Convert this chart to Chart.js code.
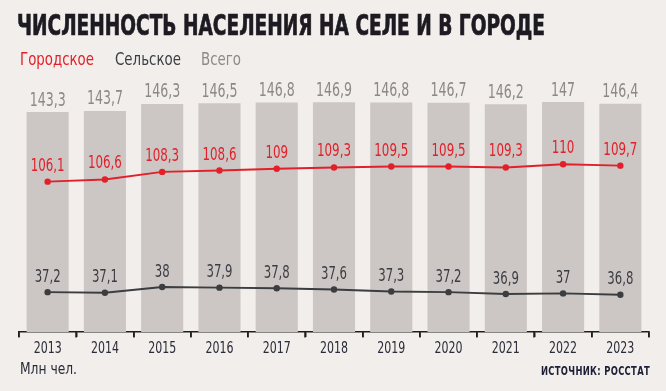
<!DOCTYPE html>
<html>
<head>
<meta charset="utf-8">
<script src="https://cdn.jsdelivr.net/npm/chart.js@4.4.1/dist/chart.umd.min.js"></script>
<style>
  html, body { margin: 0; padding: 0; background: #f1eeeb; }
  #wrap { position: relative; width: 666px; height: 391px; overflow: hidden; background: #f1eeeb; }
  canvas { position: absolute; left: 0; top: 0; }
  .t { position: absolute; white-space: nowrap; transform-origin: 0 0; font-family: "Liberation Sans Narrow", "DejaVu Sans Condensed", "Liberation Sans", sans-serif; }
  #title { left: 17px; top: 12px; font-size: 28px; line-height: 28px; font-weight: bold; color: #1e1a22; -webkit-text-stroke: 0.7px #1e1a22; }
  .leg { top: 51px; font-size: 17px; line-height: 17px; }
  #unit { left: 20px; top: 361px; font-size: 16px; line-height: 16px; color: #2a2b38; }
  #src { top: 365px; font-size: 12px; line-height: 12px; font-weight: bold; color: #1d1f36; letter-spacing: 0.4px; }
</style>
</head>
<body>
<div id="wrap">
  <canvas id="c" width="666" height="391"></canvas>
  <div class="t" id="title">ЧИСЛЕННОСТЬ НАСЕЛЕНИЯ НА СЕЛЕ И В ГОРОДЕ</div>
  <div class="t leg" id="l1" style="left:20px;color:#e2202a">Городское</div>
  <div class="t leg" id="l2" style="left:115px;color:#3b3d44">Сельское</div>
  <div class="t leg" id="l3" style="left:201px;color:#8c8987">Всего</div>
  <div class="t" id="unit">Млн чел.</div>
  <div class="t" id="src">ИСТОЧНИК: РОССТАТ</div>
</div>
<script>
// ---- data ----
const years = ["2013","2014","2015","2016","2017","2018","2019","2020","2021","2022","2023"];
const totalPop = [143.3,143.7,146.3,146.5,146.8,146.9,146.8,146.7,146.2,147,146.4];
const urbanPop = [106.1,106.6,108.3,108.6,109,109.3,109.5,109.5,109.3,110,109.7];
const ruralPop = [37.2,37.1,38,37.9,37.8,37.6,37.3,37.2,36.9,37,36.8];

function fit(id, target, anchorRight) {
  const el = document.getElementById(id);
  const w = el.getBoundingClientRect().width;
  const s = target / w;
  if (anchorRight) el.style.left = (anchorRight - target) + 'px';
  el.style.transform = 'scaleX(' + s + ')';
}
fit('title', 528);
fit('l1', 74);
fit('l2', 66);
fit('l3', 40);
fit('unit', 57);
fit('src', 109, 650.3);

const FONT = '"Liberation Sans Narrow", "DejaVu Sans Condensed", "Liberation Sans", sans-serif';
const fmt = v => String(v).replace('.', ',');

function numScale(ctx, font, sample, target) {
  ctx.save(); ctx.font = font;
  const w = ctx.measureText(sample).width;
  ctx.restore();
  return Math.min(1, target / w);
}

function drawText(ctx, txt, x, y, font, color, sx) {
  ctx.save();
  ctx.font = font;
  ctx.fillStyle = color;
  ctx.textAlign = 'center';
  ctx.textBaseline = 'alphabetic';
  ctx.translate(x, y);
  ctx.scale(sx, 1);
  ctx.fillText(txt, 0, 0);
  ctx.restore();
}

const labelPlugin = {
  id: 'labels',
  afterDraw(chart) {
    const ctx = chart.ctx;
    const specs = [
      { ds: 0, data: totalPop, font: '19px ' + FONT, color: '#8c8987', off: 6.5, sample: '143,3', w: 36 },
      { ds: 1, data: urbanPop, font: '18px ' + FONT, color: '#e2202a', off: 11, sample: '106,1', w: 34 },
      { ds: 2, data: ruralPop, font: '18px ' + FONT, color: '#3b3d44', off: 10.5, sample: '37,2', w: 26 }
    ];
    specs.forEach(sp => {
      const meta = chart.getDatasetMeta(sp.ds);
      const sx = numScale(ctx, sp.font, sp.sample, sp.w);
      meta.data.forEach((el, i) => drawText(ctx, fmt(sp.data[i]), el.x, el.y - sp.off, sp.font, sp.color, sx));
    });
    const xs = chart.scales.x;
    const half = (xs.getPixelForValue(1) - xs.getPixelForValue(0)) / 2;
    const yTop = chart.chartArea.bottom;
    ctx.save();
    ctx.fillStyle = '#1e1e1e';
    for (let i = 0; i <= years.length; i++) {
      const px = Math.round(xs.getPixelForValue(0) - half + i * 2 * half);
      ctx.fillRect(px - 0.75, yTop - 0.5, 1.5, 6);
    }
    ctx.restore();
    const yf = '16px ' + FONT;
    const ysx = numScale(ctx, yf, '2013', 28);
    years.forEach((y, i) => drawText(ctx, y, xs.getPixelForValue(i), 353.3, yf, '#2a2b38', ysx));
  }
};

new Chart(document.getElementById('c'), {
  data: {
    labels: years,
    datasets: [
      { type: 'bar', label: 'Всего', data: totalPop, yAxisID: 'yBar', backgroundColor: '#ccc7c4',
        barPercentage: 0.735, categoryPercentage: 1.0, order: 3 },
      { type: 'line', label: 'Городское', data: urbanPop, yAxisID: 'yUrban', borderColor: '#e2202a',
        backgroundColor: '#e2202a', borderWidth: 1.9, pointRadius: 3.2, pointBackgroundColor: '#e2202a',
        pointBorderWidth: 0, tension: 0, order: 1 },
      { type: 'line', label: 'Сельское', data: ruralPop, yAxisID: 'yRural', borderColor: '#3b3d40',
        backgroundColor: '#3b3d40', borderWidth: 1.9, pointRadius: 3.2, pointBackgroundColor: '#3b3d40',
        pointBorderWidth: 0, tension: 0, order: 2 }
    ]
  },
  options: {
    responsive: false,
    devicePixelRatio: 1,
    animation: false,
    layout: { padding: { left: 19, right: 17, top: 90, bottom: 0 } },
    plugins: { legend: { display: false }, tooltip: { enabled: false } },
    scales: {
      x: {
        type: 'category',
        afterFit(scale) { scale.height = 59; },
        grid: { offset: true, drawOnChartArea: false, drawTicks: true, tickLength: 5, tickColor: '#1e1e1e', tickWidth: 1.5, color: '#1e1e1e', lineWidth: 1.5 },
        border: { display: true, color: '#1e1e1e', width: 1.5 },
        ticks: { display: false }
      },
      yBar: { display: false, min: 61.8, max: 151.45 },
      yUrban: { display: false, min: 72.32, max: 126.70 },
      yRural: { display: false, min: 30.97, max: 68.78 }
    }
  },
  plugins: [labelPlugin]
});
</script>
</body>
</html>
